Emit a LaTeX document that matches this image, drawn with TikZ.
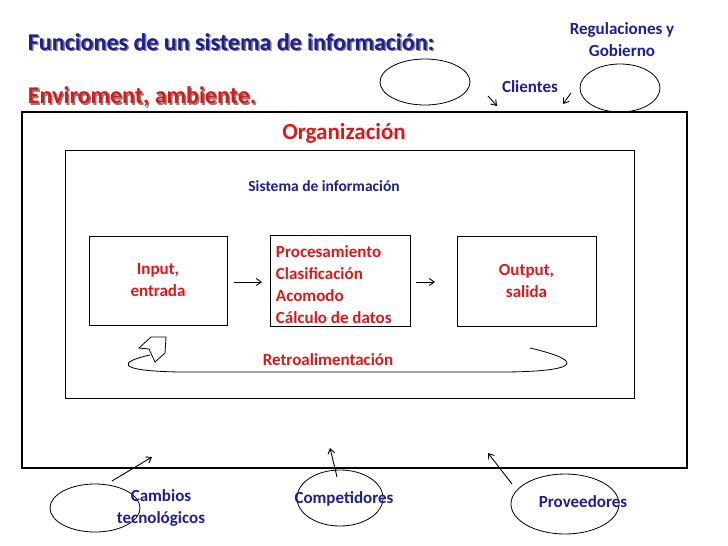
\documentclass[tikz,border=0pt]{standalone}
\usepackage{fontspec}
\setmainfont{Carlito}
\usetikzlibrary{arrows.meta,shapes.geometric}
\definecolor{tb}{RGB}{30,30,150}
\definecolor{tr}{RGB}{220,25,25}
\begin{document}
\begin{tikzpicture}[x=1pt,y=-1pt,line width=1.3pt,
  box/.style={draw,thick},
  ell/.style={draw,thick},
  bt/.style={text=tb,font=\bfseries\fontsize{17}{22}\selectfont,align=center},
  rt/.style={text=tr,font=\bfseries\fontsize{17}{22}\selectfont,align=center},
  sm/.style={-{Straight Barb[length=5pt,width=7pt]},line width=0.9pt}]
\useasboundingbox (0,0) rectangle (728,546);
\draw[box,line width=1.6pt] (22,112) rectangle (687,468);
\draw[box] (65,150) rectangle (634,398);
\node[draw,thick,minimum width=138,minimum height=89] (in) at (158,280.5) {};
\node[draw,thick,minimum width=140,minimum height=91] (pr) at (340,280.5) {};
\node[draw,thick,minimum width=139,minimum height=90] (out) at (526.5,281) {};
\node[rt] (int) at (in) {Input,\\entrada};
\node[rt] (outt) at (out) {Output,\\salida};
\node[rt,align=left,anchor=west,font=\bfseries\fontsize{17}{22}\selectfont] (prt) at (272,285) {Procesamiento\\Clasificación\\Acomodo\\Cálculo de datos};
\coordinate (a1) at (234,282); \coordinate (a2) at (262,282);
\coordinate (a3) at (416,282); \coordinate (a4) at (435,282);
\draw[sm] (a1) -- (a2); \draw[sm] (a3) -- (a4);
\node[rt,font=\bfseries\fontsize{23}{26}\selectfont] (org) at (344,133) {Organización};
\node[bt,font=\bfseries\fontsize{15.5}{18}\selectfont] (si) at (324,186) {Sistema de información};
\node[rt] (retro) at (328,360) {Retroalimentación};
\draw[thick] (530,348) .. controls (590,362) and (575,372) .. (500,372) -- (180,372) .. controls (115,371) and (118,362) .. (150,355);
\draw[thick,fill=white] (155,362) -- (165,353) -- (166,337) -- (151,337) -- (139,348) -- (149,349) -- cycle;
% titles
\node[anchor=west,text=gray,font=\bfseries\fontsize{24}{26}\selectfont] at (25.5,43.5) {Funciones de un sistema de información:};
\node[anchor=west,text=tb,font=\bfseries\fontsize{24}{26}\selectfont] (t1) at (24,42) {Funciones de un sistema de información:};
\node[anchor=west,text=gray,font=\bfseries\fontsize{24}{26}\selectfont] at (25.5,98.5) {Enviroment, ambiente.};
\node[anchor=west,text=tr,font=\bfseries\fontsize{24}{26}\selectfont] (t2) at (24,97) {Enviroment, ambiente.};
% top
\node[ell,ellipse,minimum width=90,minimum height=46] (e1) at (425,82) {};
\node[ell,ellipse,minimum width=80,minimum height=48] (e2) at (620,88) {};
\node[bt] (cli) at (530,87) {Clientes};
\node[bt] (reg) at (622,40) {Regulaciones y\\Gobierno};
\coordinate (c1) at (488,96); \coordinate (c2) at (497,106);
\coordinate (c3) at (571,93); \coordinate (c4) at (563,104);
\draw[sm] (c1) -- (c2); \draw[sm] (c3) -- (c4);
% bottom
\node[ell,ellipse,minimum width=90,minimum height=48] (b1) at (95,508) {};
\node[ell,ellipse,minimum width=86,minimum height=56] (b2) at (340,498) {};
\node[ell,ellipse,minimum width=108,minimum height=60] (b3) at (565,504) {};
\node[bt] (cam) at (161,508) {Cambios\\tecnológicos};
\node[bt] (com) at (344,499) {Competidores};
\node[bt] (pro) at (583,502) {Proveedores};
\coordinate (d1) at (112,481); \coordinate (d2) at (152,457);
\coordinate (d3) at (337,477); \coordinate (d4) at (330,448);
\coordinate (d5) at (512,484); \coordinate (d6) at (488,453);
\draw[sm] (d1) -- (d2); \draw[sm] (d3) -- (d4); \draw[sm] (d5) -- (d6);
\end{tikzpicture}
\end{document}
